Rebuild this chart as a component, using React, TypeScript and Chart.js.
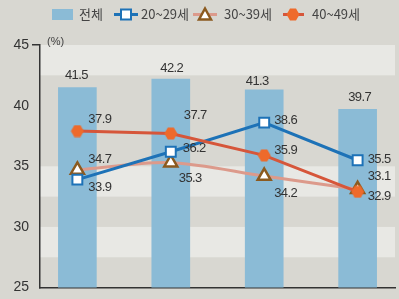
import React, { useEffect, useRef } from 'react';
import { Chart, registerables } from 'chart.js';

Chart.register(...registerables);

// ---- data ----
const categories = ['1', '2', '3', '4'];
const seriesLabels = ['전체', '20~29세', '30~39세', '40~49세'];
const totalValues = [41.5, 42.2, 41.3, 39.7];
const age20s = [33.9, 36.2, 38.6, 35.5];
const age30s = [34.7, 35.3, 34.2, 33.1];
const age40s = [37.9, 37.7, 35.9, 32.9];
const yTicks = [25, 30, 35, 40, 45];
const unitLabel = '(%)';

// ---- style ----
const BG = '#d8d7d1';
const BAND = '#e8e8e4';
const BAR = '#8bbbd6';
const BLUE = '#1d72b7';
const PINK = '#dc9a8b';
const BROWN = '#8b5a1f';
const RED = '#d6563a';
const ORANGE = '#ee6a2b';
const TEXT = '#333333';

// label offsets (dx from point, dy of text middle from point)
const barLabelOffsets = [[-1, -12], [1, -11], [-7, -8], [2, -12]];
const lineLabelOffsets = [
  [[11, 8], [12, -3], [10, -2], [10, -1]],
  [[11, -11], [8, 16], [10, 17], [10, -13]],
  [[11, -12], [13, -18], [10, -5], [10, 5]],
];
const bandRanges = [[45, 42.5], [35, 32.5], [30, 27.5]];

function makeHexagon(color: string) {
  const c = document.createElement('canvas');
  c.width = 14;
  c.height = 13;
  const g = c.getContext('2d')!;
  g.fillStyle = color;
  g.beginPath();
  g.moveTo(0.5, 6.5);
  g.lineTo(4, 0.5);
  g.lineTo(10, 0.5);
  g.lineTo(13.5, 6.5);
  g.lineTo(10, 12.5);
  g.lineTo(4, 12.5);
  g.closePath();
  g.fill();
  return c;
}

export default function App() {
  const ref = useRef<HTMLCanvasElement | null>(null);

  useEffect(() => {
    document.body.style.margin = '0';
    const canvas = ref.current!;
    const hex = makeHexagon(ORANGE);

    const bgPlugin = {
      id: 'bg',
      beforeDraw(chart: any) {
        const { ctx, chartArea, scales } = chart;
        ctx.save();
        ctx.fillStyle = BG;
        ctx.fillRect(0, 0, chart.width, chart.height);
        ctx.fillStyle = BAND;
        bandRanges.forEach(([a, b]) => {
          const y1 = scales.y.getPixelForValue(a);
          const y2 = scales.y.getPixelForValue(b);
          ctx.fillRect(chartArea.left, y1, chartArea.right - chartArea.left, y2 - y1);
        });
        ctx.restore();
      },
    };

    const drawSquare = (ctx: CanvasRenderingContext2D, x: number, y: number) => {
      ctx.fillStyle = '#ffffff';
      ctx.strokeStyle = BLUE;
      ctx.lineWidth = 2;
      ctx.fillRect(x - 5, y - 5, 10, 10);
      ctx.strokeRect(x - 5, y - 5, 10, 10);
    };
    const drawTri = (ctx: CanvasRenderingContext2D, x: number, y: number) => {
      ctx.fillStyle = '#ffffff';
      ctx.strokeStyle = BROWN;
      ctx.lineWidth = 2.5;
      ctx.beginPath();
      ctx.moveTo(x, y - 6);
      ctx.lineTo(x + 6, y + 5);
      ctx.lineTo(x - 6, y + 5);
      ctx.closePath();
      ctx.fill();
      ctx.stroke();
    };

    const legendPlugin = {
      id: 'customLegend',
      afterDraw(chart: any) {
        const { ctx } = chart;
        ctx.save();
        const cy = 14.5;
        ctx.font = '13px "Noto Sans CJK KR", sans-serif';
        ctx.fillStyle = '#444';
        ctx.textBaseline = 'middle';
        ctx.textAlign = 'left';
        ctx.fillStyle = BAR;
        ctx.fillRect(52, 9, 21, 11);
        ctx.fillStyle = '#444';
        ctx.fillText(seriesLabels[0], 79, cy);
        ctx.strokeStyle = BLUE;
        ctx.lineWidth = 3;
        ctx.beginPath();
        ctx.moveTo(114, cy);
        ctx.lineTo(138, cy);
        ctx.stroke();
        drawSquare(ctx, 126, cy);
        ctx.fillStyle = '#444';
        ctx.fillText(seriesLabels[1], 141, cy);
        ctx.strokeStyle = PINK;
        ctx.lineWidth = 3;
        ctx.beginPath();
        ctx.moveTo(193, cy);
        ctx.lineTo(217, cy);
        ctx.stroke();
        drawTri(ctx, 205, cy);
        ctx.fillStyle = '#444';
        ctx.fillText(seriesLabels[2], 224, cy);
        ctx.strokeStyle = RED;
        ctx.lineWidth = 3;
        ctx.beginPath();
        ctx.moveTo(283, cy);
        ctx.lineTo(304, cy);
        ctx.stroke();
        ctx.drawImage(hex, 293 - 7, cy - 6.5);
        ctx.fillStyle = '#444';
        ctx.fillText(seriesLabels[3], 312, cy);
        ctx.font = '11px "Liberation Sans", sans-serif';
        ctx.fillStyle = '#444';
        ctx.fillText(unitLabel, 47, 42);
        ctx.restore();
      },
    };

    const labelPlugin = {
      id: 'valueLabels',
      afterDatasetsDraw(chart: any) {
        const { ctx } = chart;
        ctx.save();
        ctx.font = '13px "Liberation Sans", sans-serif';
        (ctx as any).letterSpacing = '-0.6px';
        ctx.fillStyle = TEXT;
        ctx.textBaseline = 'middle';
        const barMeta = chart.getDatasetMeta(0);
        ctx.textAlign = 'center';
        barMeta.data.forEach((el: any, i: number) => {
          const [dx, dy] = barLabelOffsets[i];
          ctx.fillText(totalValues[i].toFixed(1), el.x + dx, el.y + dy);
        });
        ctx.textAlign = 'left';
        [age20s, age30s, age40s].forEach((vals, s) => {
          const meta = chart.getDatasetMeta(s + 1);
          meta.data.forEach((el: any, i: number) => {
            const [dx, dy] = lineLabelOffsets[s][i];
            ctx.fillText(vals[i].toFixed(1), el.x + dx, el.y + dy);
          });
        });
        ctx.restore();
      },
    };

    const toXY = (arr: number[]) => arr.map((v, i) => ({ x: i, y: v }));

    const chart = new Chart(canvas, {
      type: 'bar',
      data: {
        labels: categories,
        datasets: [
          {
            type: 'bar',
            label: seriesLabels[0],
            data: toXY(totalValues),
            backgroundColor: BAR,
            barThickness: 38,
            order: 10,
          } as any,
          {
            type: 'line',
            label: seriesLabels[1],
            data: toXY(age20s),
            borderColor: BLUE,
            borderWidth: 3,
            pointStyle: 'rect',
            pointRadius: 7,
            pointBorderWidth: 2,
            pointBackgroundColor: '#ffffff',
            pointBorderColor: BLUE,
            tension: 0,
            order: 2,
          },
          {
            type: 'line',
            label: seriesLabels[2],
            data: toXY(age30s),
            borderColor: PINK,
            borderWidth: 3,
            pointStyle: 'triangle',
            pointRadius: 7.5,
            pointBorderWidth: 2.5,
            pointBackgroundColor: '#ffffff',
            pointBorderColor: BROWN,
            tension: 0.3,
            order: 3,
          },
          {
            type: 'line',
            label: seriesLabels[3],
            data: toXY(age40s),
            borderColor: RED,
            borderWidth: 3,
            pointStyle: hex as any,
            pointRadius: 7,
            tension: 0,
            order: 1,
          },
        ],
      },
      options: {
        responsive: false,
        animation: false,
        devicePixelRatio: 1,
        layout: { autoPadding: false, padding: { top: 45, left: 0, right: 4, bottom: 11 } },
        plugins: {
          legend: { display: false },
          tooltip: { enabled: false },
          title: { display: false },
        },
        scales: {
          x: {
            type: 'linear',
            offset: false,
            min: -0.4,
            max: 3.4,
            ticks: { display: false },
            grid: { display: false, drawTicks: false, offset: false },
            border: { display: true, color: '#333', width: 1.5 },
            afterFit(scale: any) {
              scale.height = 0;
              scale.paddingLeft = 0;
              scale.paddingRight = 0;
            },
          },
          y: {
            min: 25,
            max: 45,
            afterBuildTicks(scale: any) {
              scale.ticks = yTicks.map((v) => ({ value: v }));
            },
            ticks: {
              font: { family: '"Liberation Sans", sans-serif', size: 14 },
              color: TEXT,
              padding: 3,
            },
            grid: {
              display: true,
              drawOnChartArea: false,
              drawTicks: true,
              tickLength: 8,
              lineWidth: 1.5,
              color: (c: any) => (c.tick && c.tick.value === 45 ? '#333' : 'rgba(0,0,0,0)'),
            },
            border: { display: true, color: '#333', width: 1.5 },
            afterFit(scale: any) {
              scale.width = 40;
            },
          },
        },
      },
      plugins: [bgPlugin, labelPlugin, legendPlugin],
    });
    return () => chart.destroy();
  }, []);

  return (
    <div style={{ width: 399, height: 299 }}>
      <canvas ref={ref} width={399} height={299} style={{ display: 'block' }} />
    </div>
  );
}
